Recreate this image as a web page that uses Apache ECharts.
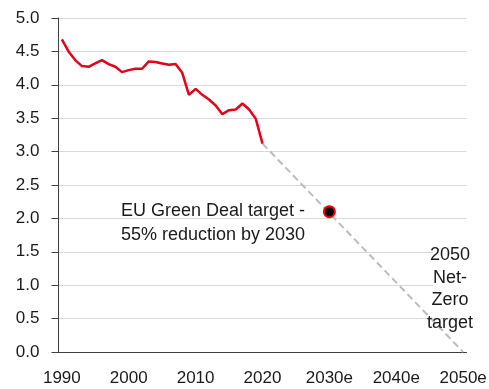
<!DOCTYPE html>
<html>
<head>
<meta charset="utf-8">
<script src="https://cdn.jsdelivr.net/npm/echarts@6/dist/echarts.min.js"></script>
<style>
  html, body { margin: 0; padding: 0; background: #fff; }
  #chart { width: 489px; height: 389px; }
</style>
</head>
<body>
<div id="chart"></div>
<script>
// Years on the category axis; years after the last actual observation are estimates
const firstYear = 1990;
const lastYear = 2050;
const lastActualYear = 2020;

// Emissions per year, 1990-2020
const emissions = [
  4.68, 4.50, 4.37, 4.28, 4.27, 4.32, 4.37, 4.31, 4.27, 4.19,
  4.22, 4.24, 4.24, 4.35, 4.34, 4.32, 4.30, 4.31, 4.18, 3.85,
  3.94, 3.85, 3.78, 3.69, 3.56, 3.62, 3.63, 3.72, 3.63, 3.49,
  3.12
];

// Straight pathway from the 2020 level to net zero in 2050
const pathwayYears = [2020, 2050];
const pathwayValues = [3.12, 0];

// EU Green Deal 2030 target
const targetYear = 2030;
const targetValue = 2.10;

const yTicks = { min: 0, max: 5, interval: 0.5 };

const categories = [];
for (let y = firstYear; y <= lastYear; y++) {
  categories.push(y > lastActualYear ? y + 'e' : String(y));
}
const idx = y => y - firstYear;

const emissionsData = categories.map((c, i) => i < emissions.length ? emissions[i] : null);
const pathwayData = categories.map(() => null);
pathwayYears.forEach((y, k) => { pathwayData[idx(y)] = pathwayValues[k]; });
const targetData = categories.map(() => null);
targetData[idx(targetYear)] = targetValue;

const FONT = '"Liberation Sans", Arial, sans-serif';
const AXIS = '#404040';
const TEXT = '#1a1a1a';

const chart = echarts.init(document.getElementById('chart'), null, { renderer: 'canvas' });
chart.setOption({
  animation: false,
  backgroundColor: '#ffffff',
  grid: { left: 58.5, right: 22.5, top: 18, bottom: 37, outerBoundsMode: 'none' },
  xAxis: {
    type: 'category',
    data: categories,
    boundaryGap: true,
    axisLine: { lineStyle: { color: AXIS, width: 1 } },
    axisTick: { interval: 9, length: 6, lineStyle: { color: AXIS } },
    axisLabel: {
      interval: 9, margin: 18, color: TEXT,
      fontFamily: FONT, fontSize: 17
    },
    splitLine: { show: false }
  },
  yAxis: {
    type: 'value',
    min: yTicks.min, max: yTicks.max, interval: yTicks.interval,
    axisLine: { show: true, lineStyle: { color: AXIS, width: 1 } },
    axisTick: { show: true, length: 7, lineStyle: { color: AXIS } },
    axisLabel: {
      margin: 19, color: TEXT, fontFamily: FONT, fontSize: 17,
      formatter: v => v.toFixed(1)
    },
    splitLine: { lineStyle: { color: '#d9d9d9', width: 1 } }
  },
  series: [
    {
      name: 'Pathway',
      type: 'line',
      data: pathwayData,
      connectNulls: true,
      showSymbol: false,
      symbol: 'none',
      lineStyle: { color: '#bdbdbd', width: 2, type: [7, 4] },
      z: 2
    },
    {
      name: 'Emissions',
      type: 'line',
      data: emissionsData,
      showSymbol: false,
      symbol: 'none',
      lineStyle: { color: '#e2001a', width: 2.5 },
      z: 3
    },
    {
      name: 'Target 2030',
      type: 'line',
      data: targetData,
      symbol: 'circle',
      symbolSize: 11,
      showSymbol: true,
      lineStyle: { width: 0 },
      itemStyle: { color: '#000000', borderColor: '#ee0000', borderWidth: 2 },
      z: 4
    }
  ],
  graphic: [
    {
      type: 'text',
      x: 121, y: 199,
      z: 101,
      style: {
        text: 'EU Green Deal target -\n55% reduction by 2030',
        font: '18px ' + FONT,
        fill: TEXT,
        lineHeight: 24,
        align: 'left',
        verticalAlign: 'top'
      }
    },
    {
      // white text box behind the net-zero note
      type: 'rect',
      z: 100,
      shape: { x: 433, y: 244, width: 40, height: 60 },
      style: { fill: '#ffffff' }
    },
    {
      type: 'text',
      x: 450, y: 244,
      z: 101,
      style: {
        text: '2050\nNet-\nZero\ntarget',
        font: '18px ' + FONT,
        fill: TEXT,
        lineHeight: 22.5,
        align: 'center',
        verticalAlign: 'top'
      }
    }
  ]
});
</script>
</body>
</html>
